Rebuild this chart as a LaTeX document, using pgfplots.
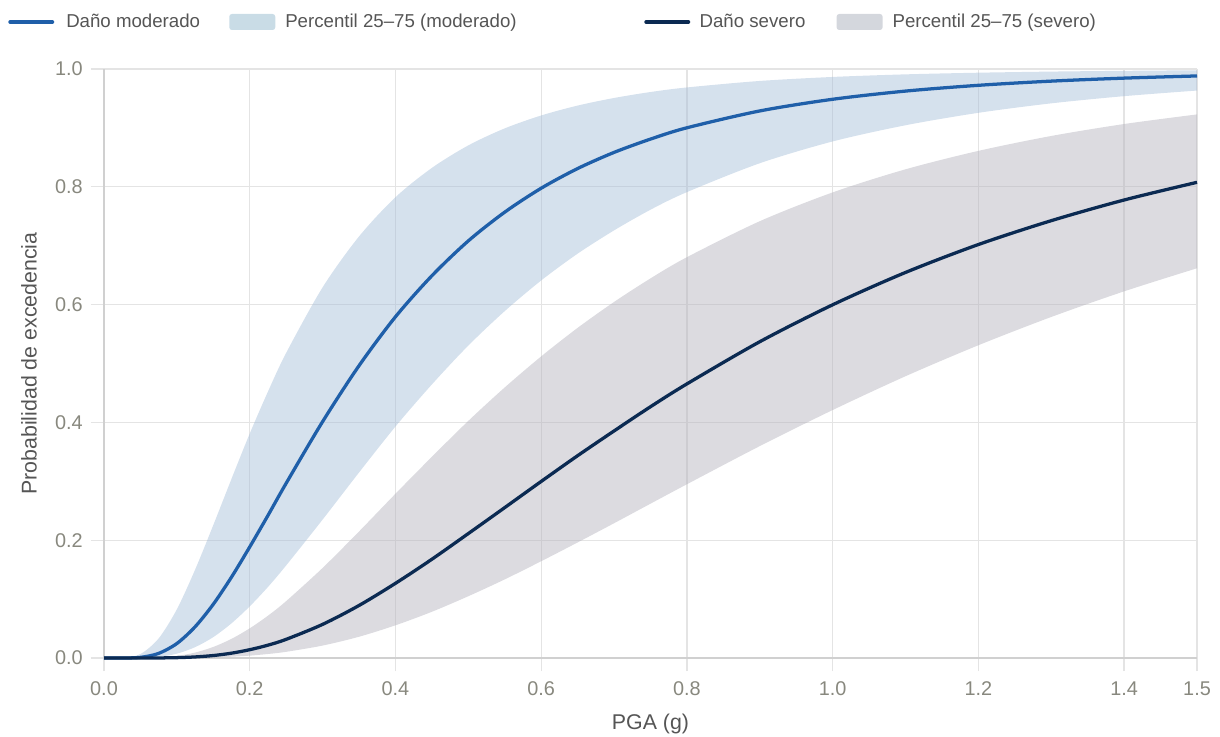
\documentclass[border=0pt]{standalone}
\usepackage{fontspec}
\setmainfont{Liberation Sans}
\usepackage{pgfplots}
\pgfplotsset{compat=1.18}
\usepgfplotslibrary{fillbetween}
\usepackage{pgfplotstable}

\definecolor{modline}{HTML}{1F5FA9}
\definecolor{sevline}{HTML}{0B2A52}
\definecolor{modband}{HTML}{A2BCD7}
\definecolor{sevband}{HTML}{B1AFBA}
\definecolor{modbox}{HTML}{C9DCE6}
\definecolor{sevbox}{HTML}{D4D7DD}
\definecolor{gridc}{HTML}{E4E4E4}
\definecolor{axisc}{HTML}{D0D0D0}
\definecolor{tickc}{HTML}{88887E}
\definecolor{labc}{HTML}{555555}

% x, median, 25th percentile, 75th percentile
\pgfplotstableread{
x     med    lo     hi
0     0      0      0
0.025 0.0000 0.0000 0.0002
0.05  0.0011 0.0002 0.0068
0.075 0.0078 0.0019 0.0332
0.1   0.0246 0.0074 0.0827
0.125 0.0530 0.0184 0.1499
0.15  0.0913 0.0355 0.2257
0.175 0.1374 0.0589 0.3042
0.2   0.1886 0.0877 0.3810
0.225 0.2420 0.1206 0.4522
0.25  0.2967 0.1572 0.5180
0.3   0.4013 0.2350 0.6293
0.35  0.4963 0.3150 0.7157
0.4   0.5793 0.3930 0.7823
0.45  0.6490 0.4645 0.8321
0.5   0.7082 0.5305 0.8703
0.55  0.7570 0.5890 0.8992
0.6   0.7976 0.6410 0.9211
0.65  0.8310 0.6865 0.9379
0.7   0.8584 0.7260 0.9508
0.75  0.8810 0.7611 0.9609
0.8   0.9002 0.7910 0.9687
0.9   0.9288 0.8400 0.9797
1.0   0.9486 0.8770 0.9865
1.1   0.9625 0.9045 0.9909
1.2   0.9723 0.9256 0.9937
1.3   0.9794 0.9417 0.9956
1.4   0.9845 0.9539 0.9969
1.5   0.9882 0.9634 0.9978
}\moder

\pgfplotstableread{
x     med    lo     hi
0     0      0      0
0.025 0      0      0
0.05  0      0      0.0001
0.075 0.0001 0      0.0009
0.1   0.0006 0.0001 0.0035
0.125 0.0018 0.0004 0.0092
0.15  0.0042 0.0010 0.0188
0.175 0.0082 0.0022 0.0325
0.2   0.0141 0.0040 0.0504
0.225 0.0218 0.0068 0.0718
0.25  0.0317 0.0105 0.0966
0.3   0.0571 0.0211 0.1529
0.35  0.0892 0.0361 0.2148
0.4   0.1268 0.0555 0.2789
0.45  0.1677 0.0785 0.3416
0.5   0.2113 0.1049 0.4026
0.55  0.2554 0.1335 0.4594
0.6   0.2998 0.1643 0.5121
0.65  0.3435 0.1962 0.5605
0.7   0.3855 0.2288 0.6045
0.75  0.4266 0.2620 0.6445
0.8   0.4654 0.2950 0.6805
0.9   0.5370 0.3598 0.7416
1.0   0.5997 0.4210 0.7905
1.1   0.6546 0.4784 0.8297
1.2   0.7020 0.5310 0.8610
1.3   0.7425 0.5790 0.8863
1.4   0.7776 0.6225 0.9066
1.5   0.8076 0.6617 0.9229
}\sever

\begin{document}
\begin{tikzpicture}
\begin{axis}[
  name=ax,
  scale only axis,
  width=819.75pt, height=441.75pt,
  xmin=0, xmax=1.5, ymin=0, ymax=1,
  xtick={0,0.2,0.4,0.6,0.8,1.0,1.2,1.4,1.5},
  xticklabels={0.0,0.2,0.4,0.6,0.8,1.0,1.2,1.4,1.5},
  ytick={0,0.2,0.4,0.6,0.8,1.0},
  yticklabels={0.0,0.2,0.4,0.6,0.8,1.0},
  axis lines=left,
  axis line style={-, draw=axisc, line width=1pt},
  grid=major,
  grid style={draw=gridc, line width=1pt},
  tick align=outside,
  major tick length=10pt,
  tick style={draw=gridc, line width=1pt},
  ticklabel style={font=\fontsize{14.9}{17}\selectfont, text=tickc},
  xticklabel style={yshift=-4.5pt},
  yticklabel style={xshift=-2.5pt},
  xlabel={PGA (g)},
  ylabel={Probabilidad de excedencia},
  label style={font=\fontsize{16}{19}\selectfont, text=labc},
  xlabel style={at={(axis description cs:0.5,-0.1222)}, anchor=base},
  ylabel style={at={(axis description cs:-0.0616,0.5)}, anchor=base},
  clip=false,
  legend columns=4,
  legend style={at={(axis description cs:0,1)}, anchor=west,
    xshift=-72pt, yshift=35.25pt, draw=none, fill=none,
    inner sep=0pt, column sep=0pt,
    font=\fontsize{14}{17}\selectfont, text=labc,
    nodes={inner xsep=0pt, inner ysep=2pt}},
]
\addlegendimage{legend image code/.code={
  \draw[modline, line width=3pt, line cap=round] (1.5pt,0pt) -- (33pt,0pt);
  \path[draw=none, fill=none] (0pt,0pt) -- (43.5pt,0pt);}}
\addlegendentry{\makebox[122.25pt][l]{Daño moderado}}
\addlegendimage{legend image code/.code={
  \fill[modbox, draw=none, rounded corners=2pt] (0pt,-6pt) rectangle (34.5pt,6pt);
  \path[draw=none, fill=none] (0pt,0pt) -- (42pt,0pt);}}
\addlegendentry{\makebox[269.25pt][l]{Percentil 25–75 (moderado)}}
\addlegendimage{legend image code/.code={
  \draw[sevline, line width=3pt, line cap=round] (1.5pt,0pt) -- (33pt,0pt);
  \path[draw=none, fill=none] (0pt,0pt) -- (41.5pt,0pt);}}
\addlegendentry{\makebox[102.75pt][l]{Daño severo}}
\addlegendimage{legend image code/.code={
  \fill[sevbox, draw=none, rounded corners=2pt] (0pt,-6pt) rectangle (34.5pt,6pt);
  \path[draw=none, fill=none] (0pt,0pt) -- (42pt,0pt);}}
\addlegendentry{Percentil 25–75 (severo)}

% moderate band
\addplot[draw=none, smooth, name path=mhi, forget plot] table[x=x, y=hi]{\moder};
\addplot[draw=none, smooth, name path=mlo, forget plot] table[x=x, y=lo]{\moder};
\addplot[fill=modband, fill opacity=0.45, draw=none, forget plot] fill between[of=mhi and mlo];
% severe band
\addplot[draw=none, smooth, name path=shi, forget plot] table[x=x, y=hi]{\sever};
\addplot[draw=none, smooth, name path=slo, forget plot] table[x=x, y=lo]{\sever};
\addplot[fill=sevband, fill opacity=0.45, draw=none, forget plot] fill between[of=shi and slo];
% medians
\addplot[modline, line width=2.45pt, smooth, line join=round, forget plot] table[x=x, y=med]{\moder};
\addplot[sevline, line width=2.45pt, smooth, line join=round, forget plot] table[x=x, y=med]{\sever};
\end{axis}
\pgfresetboundingbox
\path[use as bounding box] (ax.south west) ++(-78pt,-58.5pt) rectangle ++(915pt,552pt);
\end{tikzpicture}
\end{document}
